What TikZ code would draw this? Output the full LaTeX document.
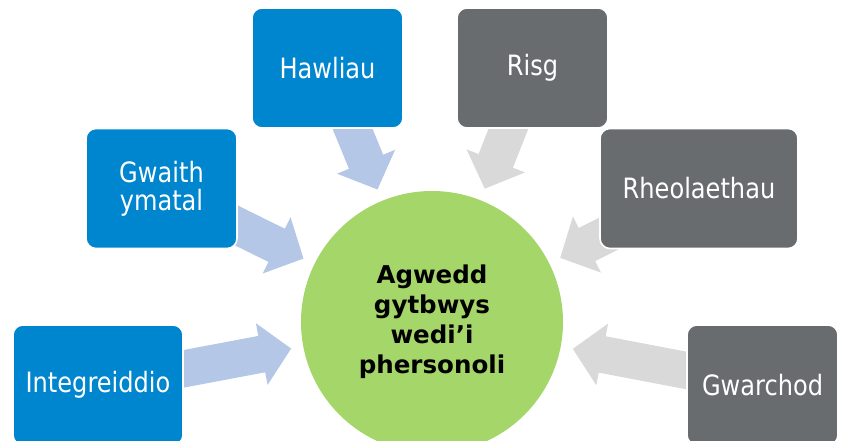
\documentclass[tikz,border=0pt]{standalone}
\usepackage{fontspec}
\setmainfont{DejaVu Sans}
\newfontfamily\topicfont[FakeStretch=0.86]{DejaVu Sans}
\usetikzlibrary{arrows.meta,backgrounds}
\definecolor{wblue}{RGB}{0,133,207}
\definecolor{wgray}{RGB}{105,108,111}
\definecolor{wgreen}{RGB}{165,214,106}
\definecolor{feedblue}{RGB}{180,199,231}
\definecolor{feedgray}{RGB}{217,217,217}
\tikzset{
  topic/.style={draw=white, line width=1.2pt, rounded corners=7.5pt, minimum width=113.25pt, minimum height=90pt, text=white, align=center, font=\topicfont\fontsize{21}{21}\selectfont},
  bluetopic/.style={topic, fill=wblue},
  graytopic/.style={topic, fill=wgray},
  hub/.style={circle, fill=wgreen, minimum size=196.5pt, inner sep=0pt, align=center, font=\bfseries\fontsize{18.4}{22.5}\selectfont},
  feed/.style={line width=27.75pt, -{Triangle[length=22.5pt,width=45.75pt]}, shorten >=9pt}
}

\begin{document}
\begin{tikzpicture}[x=0.75pt, y=-0.75pt]
  \useasboundingbox (0,0) rectangle (843,441);
  \clip (0,0) rectangle (843,441);

  % Centre
  \node[hub] (hub) at (432,322) {Agwedd\\gytbwys\\wedi’i\\phersonoli};

  %--- Blue topics ---
  \node[bluetopic, minimum width=127.5pt] (integ) at (98,385) {Integreiddio};
  \node[bluetopic] (gwaith) at (161.5,188.5) {Gwaith\\ymatal};
  \node[bluetopic] (hawl) at (327.5,68) {Hawliau};

  %--- Gray topics ---
  \node[graytopic] (risg) at (532.5,68) {Risg};
  \node[graytopic, minimum width=148.5pt] (rheol) at (699,188.5) {Rheolaethau};
  \node[graytopic] (gwarch) at (762.5,385) {Gwarchod};

  %--- Arrows into the centre ---
  \begin{scope}[on background layer]
    \draw[feed, feedblue] (integ.center) -- (hub);
    \draw[feed, feedblue] (gwaith.center) -- (hub);
    \draw[feed, feedblue] (hawl.center) -- (hub);
    \draw[feed, feedgray] (risg.center) -- (hub);
    \draw[feed, feedgray] (rheol.center) -- (hub);
    \draw[feed, feedgray] (gwarch.center) -- (hub);
  \end{scope}
\end{tikzpicture}
\end{document}
